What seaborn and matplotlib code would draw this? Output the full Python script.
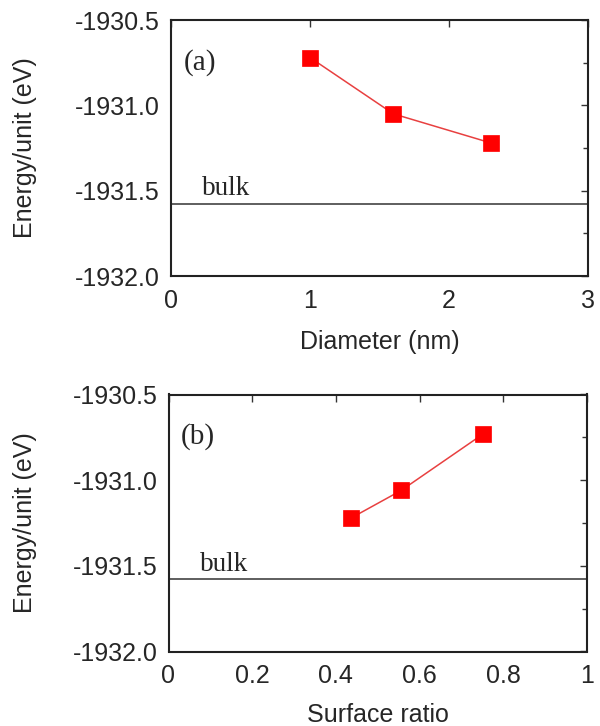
import matplotlib
matplotlib.use("Agg")
import matplotlib.pyplot as plt
import seaborn as sns
import pandas as pd
from matplotlib.ticker import MultipleLocator, FormatStrFormatter, FuncFormatter

sns.set_theme(style="white")
plt.rcParams['font.family'] = ['Liberation Sans', 'DejaVu Sans']

diameter = [1.0, 1.6, 2.3]
energy_a = [-1930.72, -1931.05, -1931.22]
surface_ratio = [0.437, 0.556, 0.752]
energy_b = [-1931.22, -1931.06, -1930.73]
bulk_energy = -1931.577

W, H = 600, 726
fig = plt.figure(figsize=(6, 7.26), dpi=100)
# axes rectangles in pixels: left, top, right, bottom
def rect(l, t, r, b):
    return [l / W, 1 - b / H, (r - l) / W, (b - t) / H]
ax1 = fig.add_axes(rect(171, 20, 588, 276))
ax2 = fig.add_axes(rect(168.5, 394.5, 587, 651.5))

SERIF = ['Liberation Serif', 'DejaVu Serif']
TXT = '#262626'

def fmt_frac(v, p):
    if abs(v) < 1e-9:
        return '0'
    if abs(v - 1) < 1e-9:
        return '1'
    return f'{v:.1f}'

def style(ax, xmax, xmajor, xlabel, tag, ylab_x, xlab_y, bulk_off):
    ax.set_ylim(-1932.0, -1930.5)
    ax.set_xlim(0, xmax)
    ax.yaxis.set_major_locator(MultipleLocator(0.5))
    ax.yaxis.set_minor_locator(MultipleLocator(0.25))
    ax.xaxis.set_major_locator(MultipleLocator(xmajor))
    ax.yaxis.set_major_formatter(FormatStrFormatter('%.1f'))
    if xmajor == 1:
        ax.xaxis.set_major_formatter(FormatStrFormatter('%d'))
    else:
        ax.xaxis.set_major_formatter(FuncFormatter(fmt_frac))
    ax.tick_params(which='both', direction='in', top=True, right=True,
                   labeltop=False, labelright=False, color='#333333',
                   labelsize=18, labelcolor=TXT)
    ax.tick_params(which='major', length=5, width=1.0)
    ax.tick_params(which='minor', length=3.6, width=1.0)
    ax.tick_params(axis='y', which='major', pad=8)
    ax.tick_params(axis='x', which='major', pad=9)
    for s in ax.spines.values():
        s.set_color('#222222')
        s.set_linewidth(1.5)
    ax.set_ylabel('Energy/unit (eV)', fontsize=18, color=TXT)
    ax.yaxis.set_label_coords(ylab_x, 0.5)
    ax.set_xlabel(xlabel, fontsize=18, color=TXT)
    ax.xaxis.set_label_coords(0.5, xlab_y)
    ax.axhline(bulk_energy, color='#333333', lw=1.1)
    ax.text(0.075, bulk_energy + bulk_off, 'bulk',
            transform=ax.get_yaxis_transform(), fontsize=19.5,
            family=SERIF, color=TXT, va='baseline')
    ax.text(0.03, 0.835, tag, transform=ax.transAxes, fontsize=21,
            family=SERIF, color=TXT, va='center')

df_a = pd.DataFrame({'x': diameter, 'y': energy_a})
df_b = pd.DataFrame({'x': surface_ratio, 'y': energy_b})

for ax, df in ((ax1, df_a), (ax2, df_b)):
    sns.lineplot(data=df, x='x', y='y', ax=ax, color='#e84040', lw=1.1,
                 marker='s', markersize=11.5, markerfacecolor='#ff0000',
                 markeredgecolor='#ff0000', markeredgewidth=0.5, sort=False)

style(ax1, 3, 1, 'Diameter (nm)', '(a)', -0.322, -0.212, 0.05)
style(ax2, 1, 0.2, 'Surface ratio', '(b)', -0.315, -0.202, 0.045)

fig.savefig('out.png', dpi=100)
